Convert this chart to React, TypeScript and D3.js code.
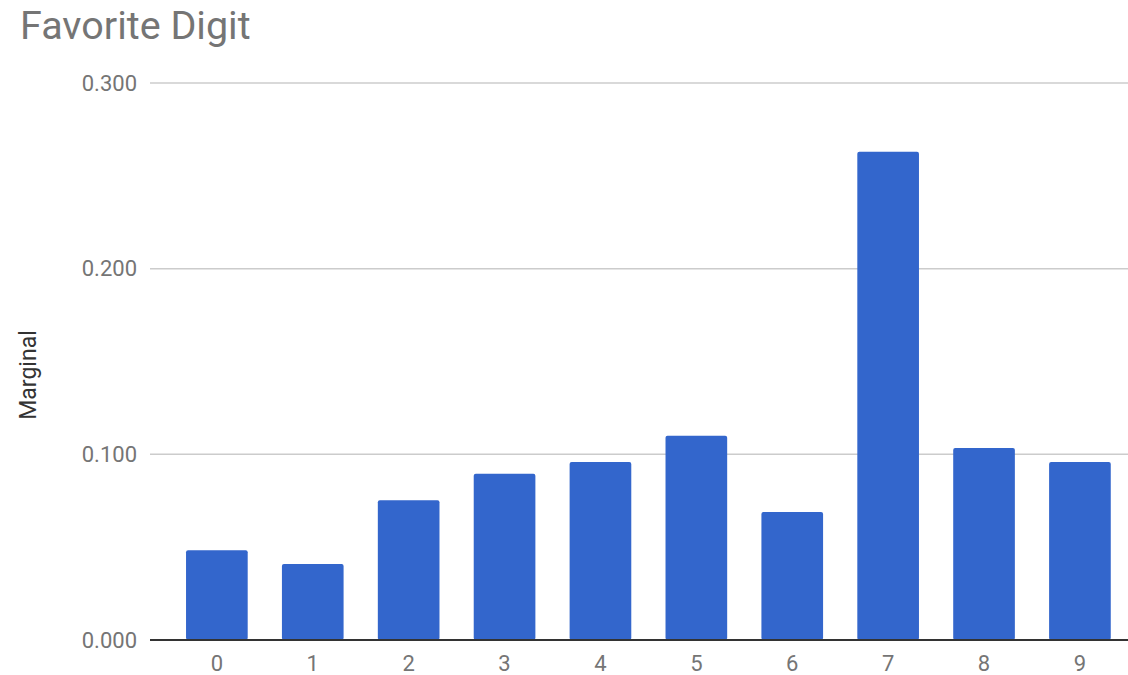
import * as d3 from "d3";
import React, { useEffect, useRef } from "react";

const digits = ["0", "1", "2", "3", "4", "5", "6", "7", "8", "9"];
const marginal = [0.0484, 0.0409, 0.0753, 0.0896, 0.0959, 0.110, 0.069, 0.263, 0.1034, 0.0959];
const yTicks = [0, 0.1, 0.2, 0.3];

const App: React.FC = () => {
  const svgRef = useRef<SVGSVGElement>(null);

  useEffect(() => {
    const svg = d3.select(svgRef.current);
    svg.selectAll("*").remove();
    const font = "Roboto, 'Noto Sans', sans-serif";

    const x = d3
      .scaleBand<string>()
      .domain(digits)
      .range([151.8, 1145])
      .paddingInner(0.357)
      .paddingOuter(0.357);
    const y = d3.scaleLinear().domain([0, 0.3]).range([640, 83]);

    svg
      .append("text")
      .attr("x", 20)
      .attr("y", 39)
      .attr("font-family", font)
      .attr("font-size", 39.5)
      .attr("fill", "#757575")
      .text("Favorite Digit");

    // gridlines
    svg
      .append("g")
      .selectAll("line")
      .data(yTicks.filter((d) => d > 0))
      .join("line")
      .attr("x1", 150)
      .attr("x2", 1128)
      .attr("y1", (d) => y(d))
      .attr("y2", (d) => y(d))
      .attr("stroke", "#cccccc")
      .attr("stroke-width", 1.5);

    svg
      .append("g")
      .selectAll("text")
      .data(yTicks)
      .join("text")
      .attr("x", 137)
      .attr("y", (d) => y(d))
      .attr("dy", "0.35em")
      .attr("text-anchor", "end")
      .attr("font-family", font)
      .attr("font-size", 22)
      .attr("fill", "#757575")
      .text((d) => d3.format(".3f")(d));

    svg
      .append("g")
      .attr("fill", "#3366cc")
      .selectAll("rect")
      .data(marginal)
      .join("rect")
      .attr("x", (_, i) => x(digits[i]) || 0)
      .attr("width", x.bandwidth())
      .attr("y", (d) => y(d))
      .attr("height", (d) => y(0) - y(d))
      .attr("rx", 2);

    svg
      .append("line")
      .attr("x1", 150)
      .attr("x2", 1128)
      .attr("y1", y(0))
      .attr("y2", y(0))
      .attr("stroke", "#333333")
      .attr("stroke-width", 2);

    svg
      .append("g")
      .selectAll("text")
      .data(digits)
      .join("text")
      .attr("x", (d) => (x(d) || 0) + x.bandwidth() / 2)
      .attr("y", 671)
      .attr("text-anchor", "middle")
      .attr("font-family", font)
      .attr("font-size", 22)
      .attr("fill", "#757575")
      .text((d) => d);

    svg
      .append("text")
      .attr("transform", "translate(36,375) rotate(-90)")
      .attr("text-anchor", "middle")
      .attr("font-family", font)
      .attr("font-size", 23)
      .attr("fill", "#333333")
      .text("Marginal");
  }, []);

  return (
    <svg
      ref={svgRef}
      width={1128}
      height={675}
      style={{ position: "absolute", left: 0, top: 0, background: "#fff" }}
    />
  );
};

export default App;
